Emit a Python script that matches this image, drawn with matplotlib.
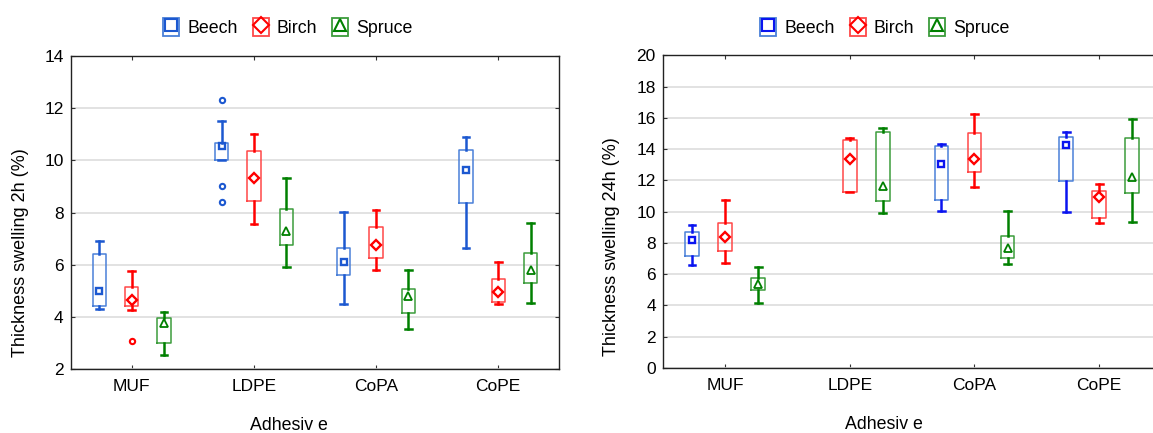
import numpy as np
import matplotlib
matplotlib.use('Agg')
import matplotlib.pyplot as plt
from matplotlib.patches import Rectangle
from matplotlib.lines import Line2D
from matplotlib.legend_handler import HandlerTuple

plt.rcParams['font.family'] = ['Liberation Sans', 'DejaVu Sans']

adhesives = ['MUF', 'LDPE', 'CoPA', 'CoPE']
species = ['Beech', 'Birch', 'Spruce']

# thickness swelling after 2 h: [whisker low, box low, marker, box high, whisker high] per adhesive
beech_2h = [[4.32, 4.43, 5.00, 6.43, 6.93],
            [10.02, 10.02, 10.55, 10.65, 11.52],
            [4.50, 5.61, 6.12, 6.64, 8.03],
            [6.66, 8.38, 9.65, 10.41, 10.89]]
birch_2h = [[4.28, 4.41, 4.65, 5.16, 5.76],
            [7.58, 8.46, 9.31, 10.35, 11.02],
            [5.81, 6.26, 6.76, 7.46, 8.12],
            [4.52, 4.57, 4.96, 5.47, 6.11]]
spruce_2h = [[2.55, 3.02, 3.77, 3.97, 4.18],
             [5.90, 6.76, 7.28, 8.14, 9.31],
             [3.56, 4.15, 4.81, 5.07, 5.80],
             [4.55, 5.29, 5.79, 6.47, 7.59]]
beech_2h_out = [[], [12.31, 9.01, 8.41], [], []]
birch_2h_out = [[3.09], [], [], []]
spruce_2h_out = [[], [], [], []]

# thickness swelling after 24 h (no beech value for LDPE)
beech_24h = [[6.57, 7.16, 8.20, 8.67, 9.15],
             None,
             [10.02, 10.72, 13.03, 14.19, 14.34],
             [9.98, 11.99, 14.28, 14.77, 15.08]]
birch_24h = [[6.72, 7.48, 8.37, 9.26, 10.72],
             [11.25, 11.25, 13.35, 14.60, 14.68],
             [11.57, 12.52, 13.35, 15.00, 16.27],
             [9.28, 9.58, 10.97, 11.33, 11.78]]
spruce_24h = [[4.19, 5.00, 5.38, 5.74, 6.44],
              [9.94, 10.66, 11.61, 15.11, 15.32],
              [6.65, 7.01, 7.65, 8.45, 10.02],
              [9.32, 11.21, 12.22, 14.72, 15.93]]
no_outliers = [[], [], [], []]

box_cols = ['#4a80d8', '#ff4848', '#3c9c3c']
markers = ['s', 'D', '^']
msizes = [5.0, 5.5, 5.5]
mew = [1.7, 1.7, 1.3]
offsets = [-0.265, 0.0, 0.265]


def draw_panel(ax, groups, outliers, line_cols, ylim, yticks, ylabel, ylab_y, xlab_x):
    for k in range(3):
        stats = []
        pos = []
        for i in range(len(adhesives)):
            v = groups[k][i]
            if v is None:
                continue
            stats.append(dict(whislo=v[0], q1=v[1], med=v[2], q3=v[3],
                              whishi=v[4], mean=v[2],
                              fliers=np.array(outliers[k][i])))
            pos.append(i + offsets[k])
        ax.bxp(stats, positions=pos, widths=0.11, capwidths=0.055,
               showmeans=True, patch_artist=False, manage_ticks=False,
               boxprops=dict(color=box_cols[k], linewidth=1.1),
               whiskerprops=dict(color=line_cols[k], linewidth=1.8),
               capprops=dict(color=line_cols[k], linewidth=1.8),
               medianprops=dict(linewidth=0),
               meanprops=dict(marker=markers[k], markerfacecolor='none',
                              markeredgecolor=line_cols[k], markersize=msizes[k],
                              markeredgewidth=mew[k]),
               flierprops=dict(marker='o', markerfacecolor='none',
                               markeredgecolor=line_cols[k], markersize=3.8,
                               markeredgewidth=1.5))
    ax.set_xlim(-0.5, 3.5)
    ax.set_ylim(*ylim)
    ax.set_yticks(yticks)
    ax.set_xticks(range(len(adhesives)))
    ax.set_xticklabels(adhesives)
    ax.yaxis.grid(True, color='#dddddd', linewidth=1.2)
    ax.set_axisbelow(True)
    ax.tick_params(direction='in', top=True, right=True, length=3,
                   labelsize=12.5, color='#333333')
    ax.tick_params(axis='x', pad=7)
    ax.tick_params(axis='y', pad=5)
    for s in ax.spines.values():
        s.set_color('#222222')
        s.set_linewidth(1.0)
    ax.set_ylabel(ylabel, fontsize=13)
    ax.yaxis.set_label_coords(-0.085, ylab_y)
    ax.set_xlabel('Adhesiv e', fontsize=12.8)
    ax.xaxis.set_label_coords(xlab_x, -0.153)

    handles = []
    for k in range(3):
        r = Rectangle((0, 0), 1, 1, facecolor='none', edgecolor=box_cols[k], linewidth=1.3)
        m = Line2D([], [], linestyle='none', marker=markers[k], markerfacecolor='none',
                   markeredgecolor=line_cols[k], markersize=8, markeredgewidth=1.5)
        handles.append((r, m))
    return handles


fig = plt.figure(figsize=(11.53, 4.33), dpi=100)
ax1 = fig.add_axes([0.0613, 0.1471, 0.4238, 0.7236])
ax2 = fig.add_axes([0.5748, 0.1500, 0.4326, 0.7223])

h1 = draw_panel(ax1, [beech_2h, birch_2h, spruce_2h],
                [beech_2h_out, birch_2h_out, spruce_2h_out],
                ['#1c58d0', '#ff0000', '#008000'],
                (2, 14), range(2, 15, 2), 'Thickness swelling 2h (%)', 0.371, 0.447)
h2 = draw_panel(ax2, [beech_24h, birch_24h, spruce_24h],
                [no_outliers] * 3,
                ['#0a14f0', '#ff0000', '#008000'],
                (0, 20), range(0, 21, 2), 'Thickness swelling 24h (%)', 0.387, 0.444)

for h, cx in [(h1, 288 / 1153), (h2, 885 / 1153)]:
    fig.legend(h, species, loc='center', bbox_to_anchor=(cx, 0.937),
               ncol=3, frameon=False, fontsize=12.8,
               handler_map={tuple: HandlerTuple(ndivide=1, pad=0)},
               handlelength=0.9, handleheight=1.2, handletextpad=0.45,
               columnspacing=0.85)

fig.savefig('out.png', dpi=100)
